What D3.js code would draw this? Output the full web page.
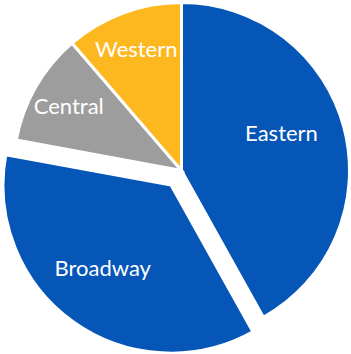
<!DOCTYPE html>
<html>
<head>
<meta charset="utf-8">
<script src="https://cdn.jsdelivr.net/npm/d3@7"></script>
<style>
html,body{margin:0;padding:0;background:#fff;}
svg{display:block;}
</style>
</head>
<body>
<svg id="chart" width="351" height="354"></svg>
<script>
const categories = ["Eastern", "Broadway", "Central", "Western"];
const values = [41.9, 36.0, 10.8, 11.3];
const colors = ["#0656B8", "#0656B8", "#9D9D9D", "#FDB71F"];
const exploded = ["Broadway"];

const svg = d3.select("#chart");
const cx = 181.5, cy = 170.5, r = 168, explode = 18;

const pie = d3.pie().sort(null).value(d => d.value);
const data = categories.map((c, i) => ({name: c, value: values[i], color: colors[i]}));
const arcs = pie(data);
const arc = d3.arc().innerRadius(0).outerRadius(r);

const g = svg.append("g").attr("transform", `translate(${cx},${cy})`);

function offset(d) {
  if (!exploded.includes(d.data.name)) return [0, 0];
  const a = (d.startAngle + d.endAngle) / 2;
  return [Math.sin(a) * explode, -Math.cos(a) * explode];
}

const slices = g.selectAll("g.slice").data(arcs).enter().append("g")
  .attr("class", "slice")
  .attr("transform", d => { const o = offset(d); return `translate(${o[0]},${o[1]})`; });

slices.append("path")
  .attr("d", arc)
  .attr("fill", d => d.data.color)
  .attr("stroke", "#fff")
  .attr("stroke-width", 3)
  .attr("stroke-linejoin", "miter");

slices.append("text")
  .attr("transform", d => {
    const frac = (d.endAngle - d.startAngle) / (2 * Math.PI);
    const lr = frac < 0.2 ? 130 : 107;
    const a = (d.startAngle + d.endAngle) / 2 - (d.data.name === "Eastern" ? 0.11 : 0) + (d.data.name === "Broadway" ? 0.07 : 0);
    return `translate(${Math.sin(a) * lr},${-Math.cos(a) * lr})`;
  })
  .attr("text-anchor", "middle")
  .attr("dominant-baseline", "central")
  .attr("fill", "#fff")
  .attr("font-family", "Lato, 'Noto Sans', sans-serif")
  .attr("font-weight", "normal")
  .attr("font-size", 22)
  .text(d => d.data.name);
</script>
</body>
</html>
